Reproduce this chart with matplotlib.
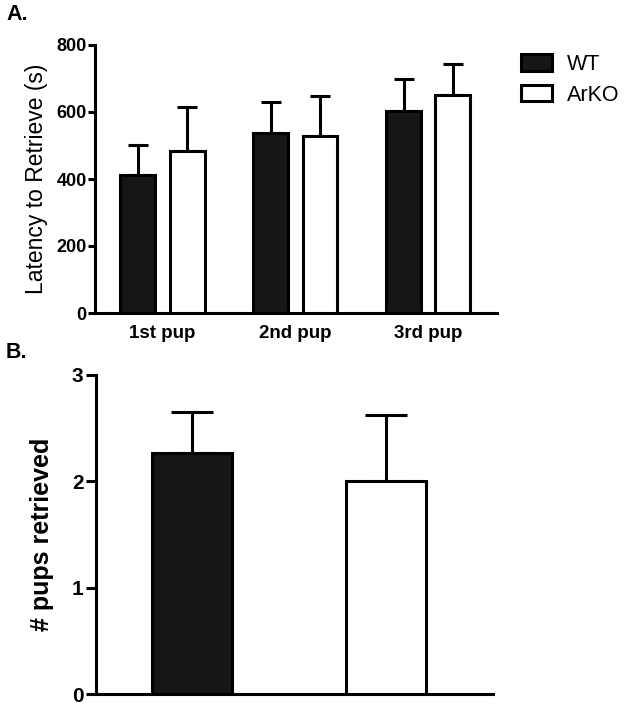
import matplotlib
matplotlib.use("Agg")
import matplotlib.pyplot as plt
from matplotlib.patches import Patch
import numpy as np

plt.rcParams['font.family'] = ['Liberation Sans', 'DejaVu Sans']

# Panel A data
pups = ["1st pup", "2nd pup", "3rd pup"]
wt_latency = [412, 537, 603]
wt_latency_err = [90, 94, 95]
arko_latency = [484, 528, 651]
arko_latency_err = [132, 120, 92]
yticks_a = [0, 200, 400, 600, 800]

# Panel B data
groups_b = ["WT", "ArKO"]
pups_retrieved = [2.27, 2.0]
pups_retrieved_err = [0.38, 0.62]
yticks_b = [0, 1, 2, 3]

W, H = 628, 709
fig = plt.figure(figsize=(W / 100, H / 100), dpi=100)

def rect(l, r, t, b):
    return [l / W, 1 - b / H, (r - l) / W, (b - t) / H]

dark = "#161616"
lw = 2.2

def style(ax, fs, pad, length):
    for s in ["top", "right"]:
        ax.spines[s].set_visible(False)
    for s in ["left", "bottom"]:
        ax.spines[s].set_linewidth(lw)
    ax.tick_params(axis="y", width=lw, length=length, labelsize=fs, pad=pad)
    for lab in ax.get_yticklabels():
        lab.set_fontweight("bold")

# Panel A
axA = fig.add_axes(rect(95, 497, 45, 313))
x = np.arange(len(pups))
off, bw = 0.186, 0.263
axA.bar(x - off, wt_latency, bw, color=dark, edgecolor="black", linewidth=lw, zorder=3)
axA.bar(x + off, arko_latency, bw, color="white", edgecolor="black", linewidth=lw, zorder=3)
axA.errorbar(x - off, wt_latency, yerr=[np.zeros(3), wt_latency_err], fmt="none",
             ecolor="black", elinewidth=lw, capsize=7, capthick=lw, zorder=2)
axA.errorbar(x + off, arko_latency, yerr=[np.zeros(3), arko_latency_err], fmt="none",
             ecolor="black", elinewidth=lw, capsize=7, capthick=lw, zorder=2)
axA.set_xlim(-0.506, 2.517)
axA.set_ylim(0, 800)
axA.set_yticks(yticks_a)
axA.set_xticks(x)
axA.set_xticklabels(pups, fontsize=13.5, fontweight="bold")
axA.tick_params(axis="x", length=0, pad=9)
style(axA, 13, 1, 5)
axA.set_ylabel("Latency to Retrieve (s)", fontsize=16.5, labelpad=6)
leg = fig.legend(handles=[Patch(facecolor=dark, edgecolor="black", linewidth=lw, label="WT"),
                          Patch(facecolor="white", edgecolor="black", linewidth=lw, label="ArKO")],
                 loc="upper left", bbox_to_anchor=(521 / W, 1 - 54 / H), frameon=False, fontsize=15.5,
                 handlelength=1.45, handleheight=0.8, handletextpad=0.7, labelspacing=0.45,
                 borderpad=0, borderaxespad=0)
fig.text(6 / W, 1 - 14 / H, "A.", fontsize=15.5, fontweight="bold", va="center", ha="left")

# Panel B
axB = fig.add_axes(rect(96, 493, 375, 694))
xb = np.arange(len(groups_b))
axB.bar(xb, pups_retrieved, 0.412, color=[dark, "white"], edgecolor="black", linewidth=lw, zorder=3)
axB.errorbar(xb, pups_retrieved, yerr=[np.zeros(2), pups_retrieved_err], fmt="none",
             ecolor="black", elinewidth=lw, capsize=15, capthick=lw, zorder=2)
axB.set_xlim(-0.495, 1.552)
axB.set_ylim(0, 3)
axB.set_yticks(yticks_b)
axB.set_xticks([])
style(axB, 15, 2, 7)
axB.set_ylabel("# pups retrieved", fontsize=18, fontweight="bold", labelpad=13)
fig.text(6 / W, 1 - 353 / H, "B.", fontsize=15.5, fontweight="bold", va="center", ha="left")

fig.savefig("out.png", dpi=100)
